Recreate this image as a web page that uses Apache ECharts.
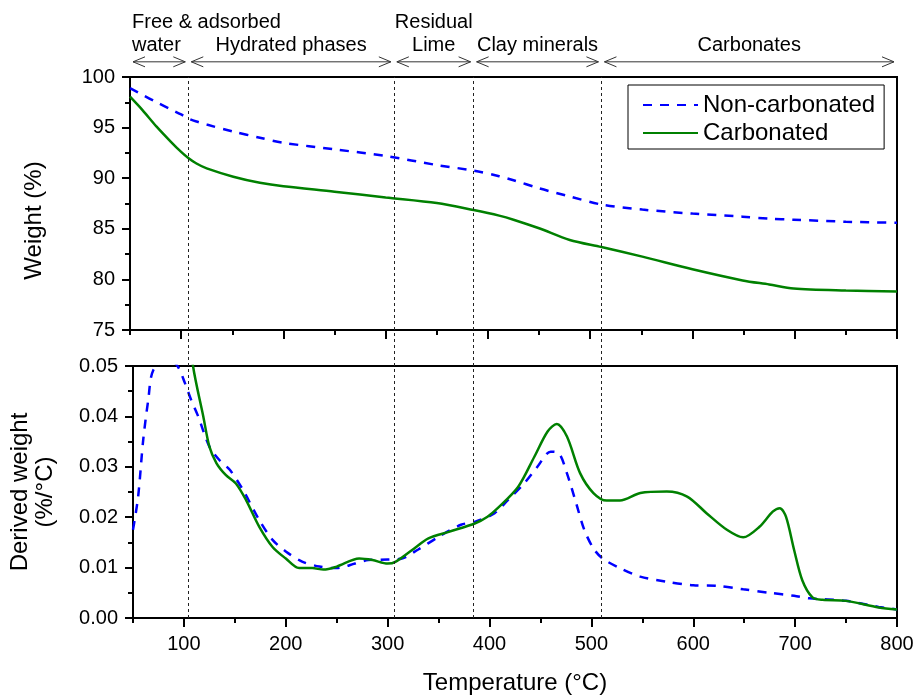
<!DOCTYPE html>
<html>
<head>
<meta charset="utf-8">
<script src="https://cdn.jsdelivr.net/npm/echarts@6/dist/echarts.min.js"></script>
<style>
  html, body { margin: 0; padding: 0; background: #fff; }
  #chart { width: 917px; height: 699px; }
</style>
</head>
<body>
<div id="chart"></div>
<script>
// TGA weight curves (%)
const tgaTemp = [50, 62, 76, 90, 100, 107, 115, 125, 151, 177, 200, 250, 300, 350, 386, 411, 425, 450, 480, 511, 551, 600, 649, 675, 699, 750, 800]
const tgaNonCarb = [98.9, 98.25, 97.5, 96.8, 96.3, 95.9, 95.6, 95.3, 94.6, 94.0, 93.5, 92.85, 92.2, 91.3, 90.75, 90.2, 89.8, 89.0, 88.2, 87.4, 86.9, 86.5, 86.2, 86.0, 85.9, 85.7, 85.6]
const tgaCarb = [98.05, 96.75, 95.1, 93.6, 92.6, 92.0, 91.45, 90.97, 90.15, 89.55, 89.2, 88.67, 88.1, 87.55, 86.85, 86.3, 85.9, 85.05, 83.9, 83.2, 82.25, 81.0, 79.9, 79.5, 79.1, 78.9, 78.8]

// DTG curves (%/°C)
const dtgNonCarbTemp = [50, 55, 60, 65, 70, 85, 94, 101, 107, 114, 125, 135, 145, 158, 174, 187, 200, 216, 233, 250, 268, 281, 300, 314, 330, 350, 372, 386, 405, 418, 434, 447, 460, 468, 476, 485, 493, 502, 511, 528, 548, 574, 600, 623, 649, 675, 699, 714, 750, 782, 800]
const dtgNonCarb = [0.0175, 0.024, 0.0353, 0.0433, 0.0492, 0.0515, 0.0499, 0.0466, 0.0433, 0.040, 0.034, 0.0313, 0.0294, 0.0254, 0.0194, 0.0155, 0.0132, 0.0112, 0.0102, 0.0099, 0.0108, 0.0115, 0.0116, 0.0118, 0.0136, 0.0161, 0.0185, 0.0191, 0.0208, 0.0234, 0.0267, 0.030, 0.033, 0.0327, 0.0287, 0.0228, 0.0175, 0.0138, 0.0118, 0.0099, 0.0082, 0.0072, 0.0065, 0.0064, 0.0057, 0.005, 0.0044, 0.0039, 0.0034, 0.0022, 0.0017]
const dtgCarbTemp = [50, 70, 90, 100, 109, 119, 125, 132, 141, 151, 161, 174, 187, 200, 213, 226, 237, 250, 272, 285, 300, 308, 324, 340, 360, 386, 398, 408, 428, 444, 457, 466, 476, 489, 502, 515, 528, 548, 574, 594, 613, 633, 649, 665, 678, 685, 691, 699, 707, 717, 727, 750, 782, 800]
const dtgCarb = [0.07, 0.11, 0.09, 0.065, 0.0499, 0.040, 0.034, 0.0307, 0.0284, 0.0267, 0.0234, 0.0181, 0.0141, 0.0118, 0.0099, 0.0099, 0.0096, 0.0102, 0.0118, 0.0115, 0.0108, 0.0112, 0.0135, 0.0158, 0.0171, 0.0188, 0.0201, 0.0218, 0.0260, 0.0320, 0.0370, 0.0385, 0.0360, 0.0287, 0.0248, 0.0233, 0.0233, 0.0248, 0.0251, 0.0241, 0.0208, 0.0175, 0.016, 0.0181, 0.0211, 0.0218, 0.0201, 0.0135, 0.0075, 0.0041, 0.0036, 0.0034, 0.0021, 0.0017]

// decomposition ranges along the temperature axis
const rangeBounds = [50, 107, 308, 386, 511, 800]
const rangeLabels = [['Free & adsorbed', 'water'], ['', 'Hydrated phases'], ['Residual', 'Lime'], ['', 'Clay minerals'], ['', 'Carbonates']]

const xMajorTicks = [100, 200, 300, 400, 500, 600, 700, 800]
const xMinorTicks = [50, 150, 250, 350, 450, 550, 650, 750]

const FONT = 'Liberation Sans, Arial, Helvetica, sans-serif'
const BLUE = '#0000ff'
const GREEN = '#008000'
// annotation rows above the top panel, in weight-% units
const ARROW_LEVEL = 101.5
const LABEL_LEVEL = 103.1
const UPPER_LABEL_LEVEL = 105.4

const zip = (xs, ys) => xs.map((x, i) => [x, ys[i]])

const chart = echarts.init(document.getElementById('chart'))

function majorX(gridIndex, withLabels) {
  return {
    type: 'value', gridIndex, position: 'bottom', min: 50, max: 800,
    axisLine: { lineStyle: { color: '#000', width: 2 } },
    axisTick: { customValues: xMajorTicks, length: 9, lineStyle: { color: '#000', width: 2 } },
    axisLabel: withLabels
      ? { customValues: xMajorTicks, fontSize: 20, fontFamily: FONT, color: '#000', margin: 16 }
      : { show: false },
    splitLine: { show: false }
  }
}

function minorX(gridIndex) {
  return {
    type: 'value', gridIndex, position: 'bottom', min: 50, max: 800,
    axisLine: { show: false },
    axisTick: { customValues: xMinorTicks, length: 5, lineStyle: { color: '#000', width: 2 } },
    axisLabel: { show: false },
    splitLine: { show: false }
  }
}

const yCommon = {
  type: 'value',
  axisLine: { show: true, lineStyle: { color: '#000', width: 2 } },
  axisTick: { length: 8, lineStyle: { color: '#000', width: 2 } },
  minorTick: { show: true, splitNumber: 2, length: 5, lineStyle: { color: '#000', width: 2 } },
  splitLine: { show: false },
  nameLocation: 'middle'
}

function renderRanges(params, api) {
  const i = api.value(2)
  const a = api.coord([api.value(0), ARROW_LEVEL])
  const b = api.coord([api.value(1), ARROW_LEVEL])
  const y = a[1]
  const x1 = a[0] + 3
  const x2 = b[0] - 3
  const head = 12
  const half = 5
  const stroke = { stroke: '#333', lineWidth: 1, fill: null }
  const children = [
    { type: 'line', shape: { x1, y1: y, x2, y2: y }, style: stroke },
    { type: 'polyline', shape: { points: [[x1 + head, y - half], [x1, y], [x1 + head, y + half]] }, style: stroke },
    { type: 'polyline', shape: { points: [[x2 - head, y - half], [x2, y], [x2 - head, y + half]] }, style: stroke }
  ]
  const [upper, lower] = rangeLabels[i]
  const first = i === 0
  const tx = first ? a[0] + 2 : (a[0] + b[0]) / 2
  const align = first ? 'left' : 'center'
  const rows = [[upper, UPPER_LABEL_LEVEL], [lower, LABEL_LEVEL]]
  rows.forEach(([text, level]) => {
    if (!text) return
    children.push({
      type: 'text',
      style: {
        text, x: tx, y: api.coord([api.value(0), level])[1],
        align, verticalAlign: 'middle',
        fontSize: 20, fontFamily: FONT, fill: '#000'
      }
    })
  })
  return { type: 'group', children }
}

const option = {
  animation: false,
  backgroundColor: '#fff',
  textStyle: { fontFamily: FONT },
  grid: [
    { left: 130, right: 20, top: 77, height: 253, show: true, borderColor: '#000', borderWidth: 2, backgroundColor: 'transparent' },
    { left: 130, right: 20, top: 366, height: 252, show: true, borderColor: '#000', borderWidth: 2, backgroundColor: 'transparent' },
    { left: 130, right: 20, top: 77, height: 541 }
  ],
  xAxis: [
    majorX(0, false),
    minorX(0),
    Object.assign(majorX(1, true), {
      name: 'Temperature (°C)', nameLocation: 'middle', nameGap: 53,
      nameTextStyle: { fontSize: 24, fontFamily: FONT, color: '#000' }
    }),
    minorX(1),
    { type: 'value', gridIndex: 2, min: 50, max: 800, show: false }
  ],
  yAxis: [
    Object.assign({}, yCommon, {
      gridIndex: 0, min: 75, max: 100, interval: 5,
      axisLabel: { fontSize: 20, fontFamily: FONT, color: '#000', margin: 15 },
      name: 'Weight (%)', nameGap: 84,
      nameTextStyle: { fontSize: 24, fontFamily: FONT, color: '#000', padding: [0, 34, 0, 0] }
    }),
    Object.assign({}, yCommon, {
      gridIndex: 1, min: 0, max: 0.05, interval: 0.01,
      axisLabel: { fontSize: 20, fontFamily: FONT, color: '#000', margin: 15, formatter: v => v.toFixed(2) },
      name: 'Derived weight\n(%/°C)', nameGap: 75,
      nameTextStyle: { fontSize: 24, lineHeight: 25, fontFamily: FONT, color: '#000' }
    }),
    { type: 'value', gridIndex: 2, min: 0, max: 1, show: false }
  ],
  legend: {
    data: ['Non-carbonated', 'Carbonated'],
    orient: 'vertical', left: 628, top: 85,
    itemWidth: 55, itemHeight: 14, itemGap: 0,
    padding: [6, 9, 2, 14],
    borderColor: '#000', borderWidth: 1, borderRadius: 0,
    backgroundColor: '#fff',
    selectedMode: false,
    itemStyle: { opacity: 0 },
    textStyle: { fontSize: 24, lineHeight: 28, fontFamily: FONT, color: '#000' }
  },
  series: [
    {
      name: 'guides', type: 'line', xAxisIndex: 4, yAxisIndex: 2, data: [], z: 1,
      markLine: {
        silent: true, symbol: ['none', 'none'], label: { show: false },
        lineStyle: { color: '#222', width: 1, type: [3, 3] },
        data: rangeBounds.slice(1, -1).map(v => ({ xAxis: v }))
      }
    },
    {
      name: 'ranges', type: 'custom', xAxisIndex: 0, yAxisIndex: 0, clip: false, silent: true,
      data: rangeBounds.slice(0, -1).map((b, i) => [b, rangeBounds[i + 1], i]),
      encode: { x: [0, 1] },
      renderItem: renderRanges
    },
    {
      name: 'Non-carbonated', type: 'line', xAxisIndex: 0, yAxisIndex: 0,
      data: zip(tgaTemp, tgaNonCarb), smooth: 0.3, symbol: 'none', z: 3,
      itemStyle: { color: BLUE }, lineStyle: { color: BLUE, width: 2.5, type: [9, 8] }
    },
    {
      name: 'Carbonated', type: 'line', xAxisIndex: 0, yAxisIndex: 0,
      data: zip(tgaTemp, tgaCarb), smooth: 0.3, symbol: 'none', z: 3,
      itemStyle: { color: GREEN }, lineStyle: { color: GREEN, width: 2.5 }
    },
    {
      name: 'Non-carbonated', type: 'line', xAxisIndex: 2, yAxisIndex: 1,
      data: zip(dtgNonCarbTemp, dtgNonCarb), smooth: 0.3, symbol: 'none', z: 3,
      itemStyle: { color: BLUE }, lineStyle: { color: BLUE, width: 2.5, type: [9, 8] }
    },
    {
      name: 'Carbonated', type: 'line', xAxisIndex: 2, yAxisIndex: 1,
      data: zip(dtgCarbTemp, dtgCarb), smooth: 0.3, symbol: 'none', z: 3,
      itemStyle: { color: GREEN }, lineStyle: { color: GREEN, width: 2.5 }
    }
  ]
}

chart.setOption(option)
</script>
</body>
</html>
